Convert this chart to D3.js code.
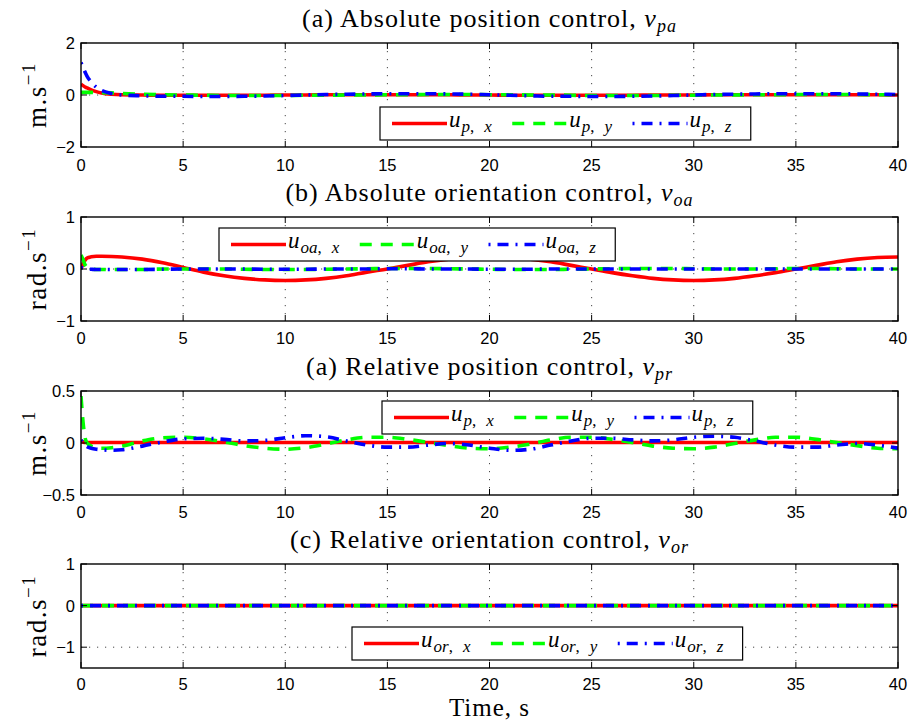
<!DOCTYPE html>
<html><head><meta charset="utf-8">
<script src="https://cdn.jsdelivr.net/npm/d3@7"></script>
<style>body{margin:0;background:#fff}</style>
</head><body><svg id="c" width="911" height="724"></svg>
<script>
// ---------- DATA ----------
const time = [0,0.1,0.2,0.3,0.5,0.75,1,1.5,
  2,3,4,5,6,7,8,9,10,11,
  12,13,14,15,16,17,18,19,20,21,
  22,23,24,25,26,27,28,29,30,31,
  32,33,34,35,36,37,38,39,40];
const timeFlat = [0, 40];
const xTicks = [0,5,10,15,20,25,30,35,40];

// (a) absolute position
const paX = [0.42,0.36,0.31,0.27,0.20,0.13,0.08,0.03,
  0.01,0.00,-0.01,-0.01,-0.01,-0.01,-0.01,-0.01,0.00,0.00,
  0.01,0.01,0.01,0.01,0.01,0.01,0.01,0.00,0.00,-0.01,
  -0.01,-0.01,-0.01,-0.01,-0.01,-0.01,0.00,0.00,0.00,0.01,
  0.01,0.01,0.01,0.01,0.01,0.01,0.01,0.01,0.00];
const paY = [0.10,0.10,0.10,0.10,0.10,0.09,0.09,0.08,
  0.06,0.03,0.01,0.00,-0.01,-0.02,-0.02,-0.02,-0.02,-0.01,
  -0.01,0.00,0.00,0.01,0.01,0.02,0.02,0.02,0.01,0.01,
  0.00,0.00,-0.01,-0.02,-0.02,-0.02,-0.02,-0.01,-0.01,0.00,
  0.00,0.01,0.01,0.02,0.02,0.02,0.02,0.01,0.01];
const paZ = [1.25,1.05,0.88,0.72,0.50,0.30,0.18,0.06,
  0.00,-0.03,-0.05,-0.05,-0.06,-0.06,-0.05,-0.04,-0.02,0.00,
  0.02,0.03,0.04,0.05,0.05,0.05,0.04,0.03,0.01,-0.01,
  -0.03,-0.05,-0.05,-0.06,-0.06,-0.05,-0.04,-0.02,0.00,0.02,
  0.03,0.04,0.05,0.05,0.05,0.05,0.04,0.03,0.02];

// (b) absolute orientation
const oaX = [0.00,0.10,0.17,0.21,0.235,0.245,0.245,0.24,
  0.23,0.19,0.12,0.03,-0.06,-0.13,-0.18,-0.21,-0.22,-0.21,
  -0.18,-0.13,-0.06,0.00,0.07,0.14,0.19,0.22,0.23,0.22,
  0.19,0.14,0.07,0.00,-0.07,-0.13,-0.18,-0.21,-0.22,-0.21,
  -0.18,-0.13,-0.07,0.00,0.07,0.14,0.19,0.22,0.23];
const oaY = [0.27,0.18,0.08,0.03,0.00,-0.01,-0.01,-0.01,
  -0.01,-0.01,0.00,0.00,0.00,0.00,-0.005,-0.01,-0.01,-0.01,
  -0.005,0.00,0.005,0.01,0.01,0.01,0.005,0.00,-0.005,-0.01,
  -0.01,-0.01,-0.005,0.00,0.005,0.01,0.01,0.01,0.005,0.00,
  0.00,0.00,0.005,0.01,0.01,0.005,0.00,0.00,0.00];
const oaZ = [0.03,0.02,0.01,0.00,-0.005,-0.01,-0.01,-0.01,
  -0.01,-0.01,-0.005,0,0,0,0,-0.005,-0.005,-0.005,
  0,0,0,0.005,0.005,0,0,0,-0.005,-0.005,
  -0.005,0,0,0,0,0,0,0,0,0,
  0,0,0,0,0,0,0,0,0];

// (c) relative position
const prX = [0.02,0.01,0.005,0.005,0.005,0.005,0.005,0.005,
  0.005,0.005,0.005,0.005,0.005,0.005,0.005,0.005,0.005,0.005,
  0.005,0.005,0.005,0.005,0.005,0.005,0.005,0.005,0.005,0.005,
  0.005,0.005,0.005,0.005,0.005,0.005,0.005,0.005,0.005,0.005,
  0.005,0.005,0.005,0.005,0.005,0.005,0.005,0.005,0.005];
const prY = [0.45,0.20,0.05,0.00,-0.03,-0.045,-0.05,-0.045,
  -0.03,0.02,0.05,0.055,0.04,0.01,-0.025,-0.05,-0.06,-0.045,
  -0.01,0.03,0.055,0.055,0.035,0.005,-0.025,-0.05,-0.055,-0.04,
  -0.01,0.03,0.055,0.055,0.035,0.005,-0.03,-0.05,-0.055,-0.04,
  -0.005,0.03,0.055,0.055,0.035,0.005,-0.025,-0.05,-0.055];
const prZ = [0.03,0.00,-0.02,-0.035,-0.05,-0.06,-0.065,-0.07,
  -0.065,-0.03,0.01,0.04,0.045,0.035,0.02,0.025,0.05,0.07,
  0.06,0.02,-0.02,-0.04,-0.04,-0.02,-0.005,-0.02,-0.05,-0.07,
  -0.06,-0.02,0.02,0.045,0.045,0.03,0.02,0.03,0.055,0.065,
  0.055,0.02,-0.02,-0.04,-0.04,-0.02,-0.005,-0.02,-0.05];

// (d) relative orientation
const orX = [0, 0];
const orY = [0, 0];
const orZ = [0, 0];

const titles = [
  ["(a) Absolute position control, ", "v", "pa"],
  ["(b) Absolute orientation control, ", "v", "oa"],
  ["(a) Relative position control, ", "v", "pr"],
  ["(c) Relative orientation control, ", "v", "or"]
];
const yLabels = [["m.s","\u22121"],["rad.s","\u22121"],["m.s","\u22121"],["rad.s","\u22121"]];
const yDomains = [[-2,2],[-1,1],[-0.5,0.5],[-1.5,1]];
const yTicks = [[-2,0,2],[-1,0,1],[-0.5,0,0.5],[-1,0,1]];
const yTickLabels = [["\u22122","0","2"],["\u22121","0","1"],["\u22120.5","0","0.5"],["\u22121","0","1"]];
const legendSubs = [["p","x","y","z"],["oa","x","y","z"],["p","x","y","z"],["or","x","y","z"]];
const seriesSets = [
  {t: time, v: [paX, paY, paZ]},
  {t: time, v: [oaX, oaY, oaZ]},
  {t: time, v: [prX, prY, prZ]},
  {t: timeFlat, v: [orX, orY, orZ]}
];

// ---------- LAYOUT / STYLE ----------
const W = 911, H = 724;
const left = 81, right = 898;
const panelTops = [43, 217, 391, 564];
const panelH = 104;
const tickLabelOffset = [24, 23, 23, 22];
const legendPos = [[380,107],[219,228],[382,401],[352,627]];
const colors = ["#ff0000","#00ff00","#0000ff"];
const dashes = [null, "12,9", "2,7,11,7"];
const serif = "'Liberation Serif','Times New Roman',serif";
const sans = "'Liberation Sans',Arial,Helvetica,sans-serif";

const svg = d3.select("#c");
svg.append("rect").attr("width",W).attr("height",H).attr("fill","#fff");

const x = d3.scaleLinear().domain([0,40]).range([left,right]);

panelTops.forEach((top, i) => {
  const bottom = top + panelH;
  const y = d3.scaleLinear().domain(yDomains[i]).range([bottom, top]);
  const g = svg.append("g");

  const cid = "clip"+i;
  svg.append("clipPath").attr("id",cid).append("rect")
    .attr("x",left).attr("y",top).attr("width",right-left).attr("height",panelH);

  // grid
  const grid = g.append("g").attr("stroke","#333").attr("stroke-width",0.9).attr("stroke-dasharray","1.2,6.8");
  xTicks.filter(t => t>0 && t<40).forEach(t => {
    grid.append("line").attr("x1",x(t)).attr("x2",x(t)).attr("y1",top).attr("y2",bottom);
  });
  yTicks[i].filter(v => v>yDomains[i][0] && v<yDomains[i][1]).forEach(v => {
    grid.append("line").attr("x1",left).attr("x2",right).attr("y1",y(v)).attr("y2",y(v));
  });

  // lines
  const set = seriesSets[i];
  const lineGen = d3.line().x((d,k) => x(set.t[k])).y(d => y(d)).curve(d3.curveMonotoneX);
  const lg = g.append("g").attr("clip-path",`url(#${cid})`);
  set.v.forEach((vals, s) => {
    const p = lg.append("path").datum(vals).attr("d", lineGen)
      .attr("fill","none").attr("stroke",colors[s]).attr("stroke-width",3.6)
      .attr("stroke-linejoin","round");
    if (dashes[s]) p.attr("stroke-dasharray", dashes[s]);
  });

  // frame
  g.append("rect").attr("x",left).attr("y",top).attr("width",right-left).attr("height",panelH)
    .attr("fill","none").attr("stroke","#000").attr("stroke-width",1.4);

  // ticks (inside, all four sides)
  const tk = g.append("g").attr("stroke","#000").attr("stroke-width",1);
  const tl = 6;
  xTicks.forEach(t => {
    tk.append("line").attr("x1",x(t)).attr("x2",x(t)).attr("y1",bottom).attr("y2",bottom-tl);
    tk.append("line").attr("x1",x(t)).attr("x2",x(t)).attr("y1",top).attr("y2",top+tl);
  });
  yTicks[i].forEach(v => {
    tk.append("line").attr("x1",left).attr("x2",left+tl).attr("y1",y(v)).attr("y2",y(v));
    tk.append("line").attr("x1",right).attr("x2",right-tl).attr("y1",y(v)).attr("y2",y(v));
  });

  // tick labels
  xTicks.forEach(t => {
    g.append("text").attr("x",x(t)).attr("y",bottom+tickLabelOffset[i]).attr("text-anchor","middle")
      .attr("font-family",sans).attr("font-size",16.5).attr("fill","#000").text(t);
  });
  yTicks[i].forEach((v,k) => {
    g.append("text").attr("x",left-6).attr("y",y(v)+6).attr("text-anchor","end")
      .attr("font-family",sans).attr("font-size",16.5).attr("fill","#000").text(yTickLabels[i][k]);
  });

  // title
  const tt = g.append("text").attr("x",(left+right)/2).attr("y",top-16).attr("text-anchor","middle")
    .attr("font-family",serif).attr("font-size",26).attr("letter-spacing",1).attr("fill","#000");
  tt.append("tspan").text(titles[i][0]);
  tt.append("tspan").attr("font-style","italic").text(titles[i][1]);
  tt.append("tspan").attr("font-style","italic").attr("font-size",18).attr("dy",5).text(titles[i][2]);

  // y label
  const cy = (top+bottom)/2;
  const yl = g.append("text").attr("transform",`translate(46,${cy}) rotate(-90)`).attr("text-anchor","middle")
    .attr("font-family",serif).attr("font-size",27).attr("letter-spacing",1.5).attr("fill","#000");
  yl.append("tspan").text(yLabels[i][0]);
  yl.append("tspan").attr("font-size",19).attr("dy",-11).text(yLabels[i][1]);

  // legend
  const [lx, ly] = legendPos[i];
  const lgd = svg.append("g");
  const box = lgd.append("rect").attr("x",lx).attr("y",ly).attr("height",33)
    .attr("fill","#fff").attr("stroke","#000").attr("stroke-width",1.2);
  let cx = lx + 12;
  const my = ly + 16.5;
  const subs = legendSubs[i];
  [1,2,3].forEach((k, s) => {
    const ln = lgd.append("line").attr("x1",cx).attr("x2",cx+55).attr("y1",my).attr("y2",my)
      .attr("stroke",colors[s]).attr("stroke-width",3.6);
    if (dashes[s]) ln.attr("stroke-dasharray",dashes[s]);
    cx += 57;
    const tx = lgd.append("text").attr("x",cx).attr("y",my+3).attr("font-family",serif)
      .attr("font-size",23).attr("fill","#000");
    tx.append("tspan").attr("font-style","italic").text("u");
    tx.append("tspan").attr("font-style","italic").attr("font-size",17).attr("dy",5).attr("dx",1).text(subs[0]);
    tx.append("tspan").attr("font-size",17).text(",");
    tx.append("tspan").attr("font-style","italic").attr("font-size",17).attr("dx",10).text(subs[k]);
    const bb = tx.node().getBBox();
    cx = bb.x + bb.width + (s < 2 ? 20 : 19);
  });
  box.attr("width", cx - lx);
});

// x label
svg.append("text").attr("x",(left+right)/2).attr("y",716).attr("text-anchor","middle")
  .attr("font-family",serif).attr("font-size",25).attr("letter-spacing",1).attr("fill","#000").text("Time, s");
</script>
</body></html>
